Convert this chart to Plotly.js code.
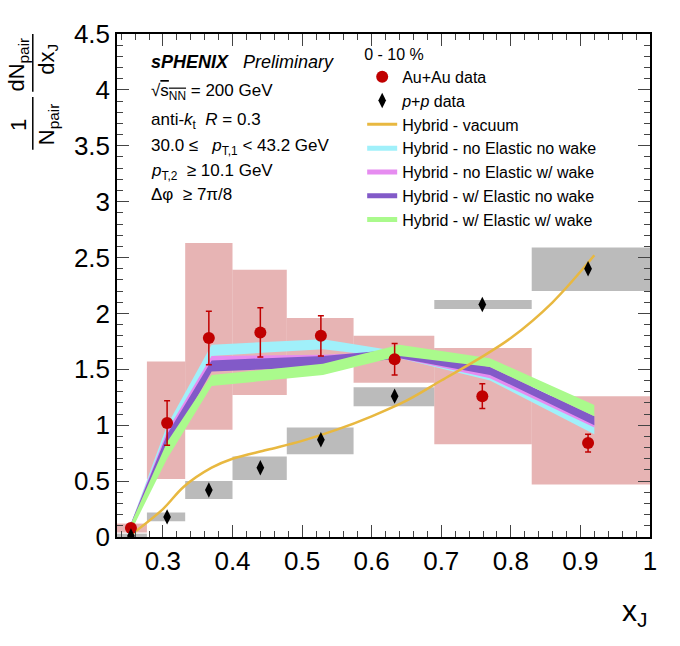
<html><head><script src="https://cdn.plot.ly/plotly-3.0.0.min.js"></script></head><body style="margin:0">
<div id="g" style="width:680px;height:646px"></div>
<script>
const binLo=[0.234,0.277,0.332,0.40,0.478,0.574,0.69,0.83];
const binHi=[0.277,0.332,0.40,0.478,0.574,0.69,0.83,1.0];
const xAA=[0.254,0.306,0.366,0.44,0.527,0.633,0.759,0.911];
const yAA=[0.08,1.02,1.78,1.83,1.80,1.59,1.26,0.84];
const eAA=[0.03,0.20,0.24,0.22,0.18,0.14,0.11,0.08];
const sysAALo=[0.04,0.52,0.96,1.27,1.62,1.38,0.83,0.47];
const sysAAHi=[0.12,1.57,2.63,2.39,1.96,1.80,1.69,1.26];
const yPP=[0.01,0.18,0.42,0.62,0.87,1.26,2.08,2.40];
const sysPPLo=[0.0,0.14,0.34,0.51,0.74,1.17,2.04,2.20];
const sysPPHi=[0.03,0.22,0.50,0.72,0.98,1.34,2.12,2.59];
const xVac=[0.254,0.30,0.33,0.37,0.40,0.45,0.50,0.55,0.60,0.65,0.70,0.75,0.80,0.86,0.92];
const yVac=[0.02,0.25,0.45,0.62,0.70,0.78,0.86,0.96,1.08,1.22,1.40,1.58,1.78,2.10,2.52];
const xHy=[0.254,0.306,0.37,0.53,0.64,0.77,0.92];
const bands=[
 {name:'Hybrid - no Elastic no wake',c:'rgba(160,240,250,1)',lo:[0.05,0.85,1.62,1.68,1.60,1.40,0.92],hi:[0.12,1.00,1.72,1.77,1.66,1.48,1.00]},
 {name:'Hybrid - no Elastic w/ wake',c:'rgba(230,140,240,1)',lo:[0.05,0.80,1.50,1.55,1.60,1.42,0.98],hi:[0.12,0.95,1.62,1.63,1.66,1.50,1.05]},
 {name:'Hybrid - w/ Elastic no wake',c:'rgba(130,90,200,1)',lo:[0.05,0.78,1.48,1.52,1.60,1.45,1.00],hi:[0.12,0.92,1.58,1.62,1.68,1.52,1.08]},
 {name:'Hybrid - w/ Elastic w/ wake',c:'rgba(170,250,140,1)',lo:[0.05,0.70,1.35,1.45,1.62,1.52,1.08],hi:[0.12,0.85,1.45,1.55,1.72,1.60,1.18]}];
const shapes=[];
for(let i=0;i<8;i++){
 shapes.push({type:'rect',xref:'x',yref:'y',x0:binLo[i],x1:binHi[i],y0:sysAALo[i],y1:sysAAHi[i],fillcolor:'rgba(215,130,130,0.6)',line:{width:0},layer:'below'});
 shapes.push({type:'rect',xref:'x',yref:'y',x0:binLo[i],x1:binHi[i],y0:sysPPLo[i],y1:sysPPHi[i],fillcolor:'rgba(150,150,150,0.65)',line:{width:0},layer:'below'});
}
shapes.push({type:'line',xref:'paper',yref:'paper',x0:-0.158,x1:-0.158,y0:0.77,y1:0.875,line:{color:'black',width:1.5}});
shapes.push({type:'line',xref:'paper',yref:'paper',x0:-0.158,x1:-0.158,y0:0.885,y1:1.0,line:{color:'black',width:1.5}});
const traces=[];
bands.forEach(b=>{
 traces.push({x:xHy,y:b.lo,mode:'lines',line:{width:0,color:b.c},showlegend:false,hoverinfo:'skip'});
 traces.push({x:xHy,y:b.hi,mode:'lines',fill:'tonexty',fillcolor:b.c,line:{width:0,color:b.c},showlegend:false});
});
traces.push({x:xVac,y:yVac,mode:'lines',line:{color:'#e8b840',width:2.5,shape:'spline'},showlegend:false});
traces.push({x:xAA,y:yAA,mode:'markers',marker:{color:'#c00000',size:12},error_y:{type:'data',array:eAA,color:'#c00000',thickness:1.5,width:3},name:'Au+Au data'});
traces.push({x:xAA,y:yPP,mode:'markers',marker:{color:'black',size:11,symbol:'diamond-tall'},name:'<i>p</i>+<i>p</i> data'});
traces.push({x:[null],y:[null],mode:'lines',line:{color:'#e8b840',width:3},name:'Hybrid - vacuum'});
bands.forEach(b=>traces.push({x:[null],y:[null],mode:'lines',line:{color:b.c,width:5},name:b.name}));
const F='Liberation Sans, Arial, sans-serif';
const ann=(t,x,y,s,o)=>Object.assign({text:t,xref:'paper',yref:'paper',x:x,y:y,xanchor:'left',yanchor:'middle',showarrow:false,font:{family:F,size:s||17,color:'black'}},o||{});
const layout={width:680,height:646,margin:{l:117,r:30,t:34,b:109},paper_bgcolor:'white',plot_bgcolor:'white',
 xaxis:{range:[0.234,1.0],tickvals:[0.3,0.4,0.5,0.6,0.7,0.8,0.9,1],ticktext:['0.3','0.4','0.5','0.6','0.7','0.8','0.9','1'],ticks:'inside',ticklen:12,minor:{ticks:'inside',ticklen:6,dtick:0.02},mirror:'ticks',showline:true,linecolor:'black',linewidth:1.5,showgrid:false,zeroline:false,tickfont:{family:F,size:26,color:'black'}},
 yaxis:{range:[0,4.5],dtick:0.5,ticks:'inside',ticklen:12,minor:{ticks:'inside',ticklen:6,dtick:0.1},mirror:'ticks',showline:true,linecolor:'black',linewidth:1.5,showgrid:false,zeroline:false,tickfont:{family:F,size:26,color:'black'}},
 shapes:shapes,
 legend:{x:0.46,y:0.99,xanchor:'left',yanchor:'top',traceorder:'normal',bgcolor:'rgba(0,0,0,0)',font:{family:F,size:16,color:'black'},tracegroupgap:0,itemwidth:30,title:{text:'0 - 10 %',font:{family:F,size:16,color:'black'}}},
 annotations:[
  ann('<b><i>sPHENIX</i></b>   <i>Preliminary</i>',0.06,0.945,18),
  ann('√<span style="text-decoration:overline">s<sub>NN</sub></span> = 200 GeV',0.06,0.885),
  ann('anti-<i>k</i><sub>t</sub>  <i>R</i> = 0.3',0.06,0.828),
  ann('30.0 ≤   <i>p</i><sub>T,1</sub> < 43.2 GeV',0.06,0.775),
  ann('<i>p</i><sub>T,2</sub>  ≥ 10.1 GeV',0.06,0.725),
  ann('Δφ  ≥ 7π/8',0.06,0.68),
  ann('x<sub>J</sub>',1.0,-0.15,30,{xanchor:'right'}),
  ann('1',-0.185,0.82,22,{xanchor:'center',textangle:-90}),
  ann('dN<sub>pair</sub>',-0.185,0.94,22,{xanchor:'center',textangle:-90}),
  ann('N<sub>pair</sub>',-0.13,0.82,22,{xanchor:'center',textangle:-90}),
  ann('dx<sub>J</sub>',-0.13,0.95,22,{xanchor:'center',textangle:-90})
 ]};
Plotly.newPlot('g',traces,layout,{displayModeBar:false});
</script></body></html>
